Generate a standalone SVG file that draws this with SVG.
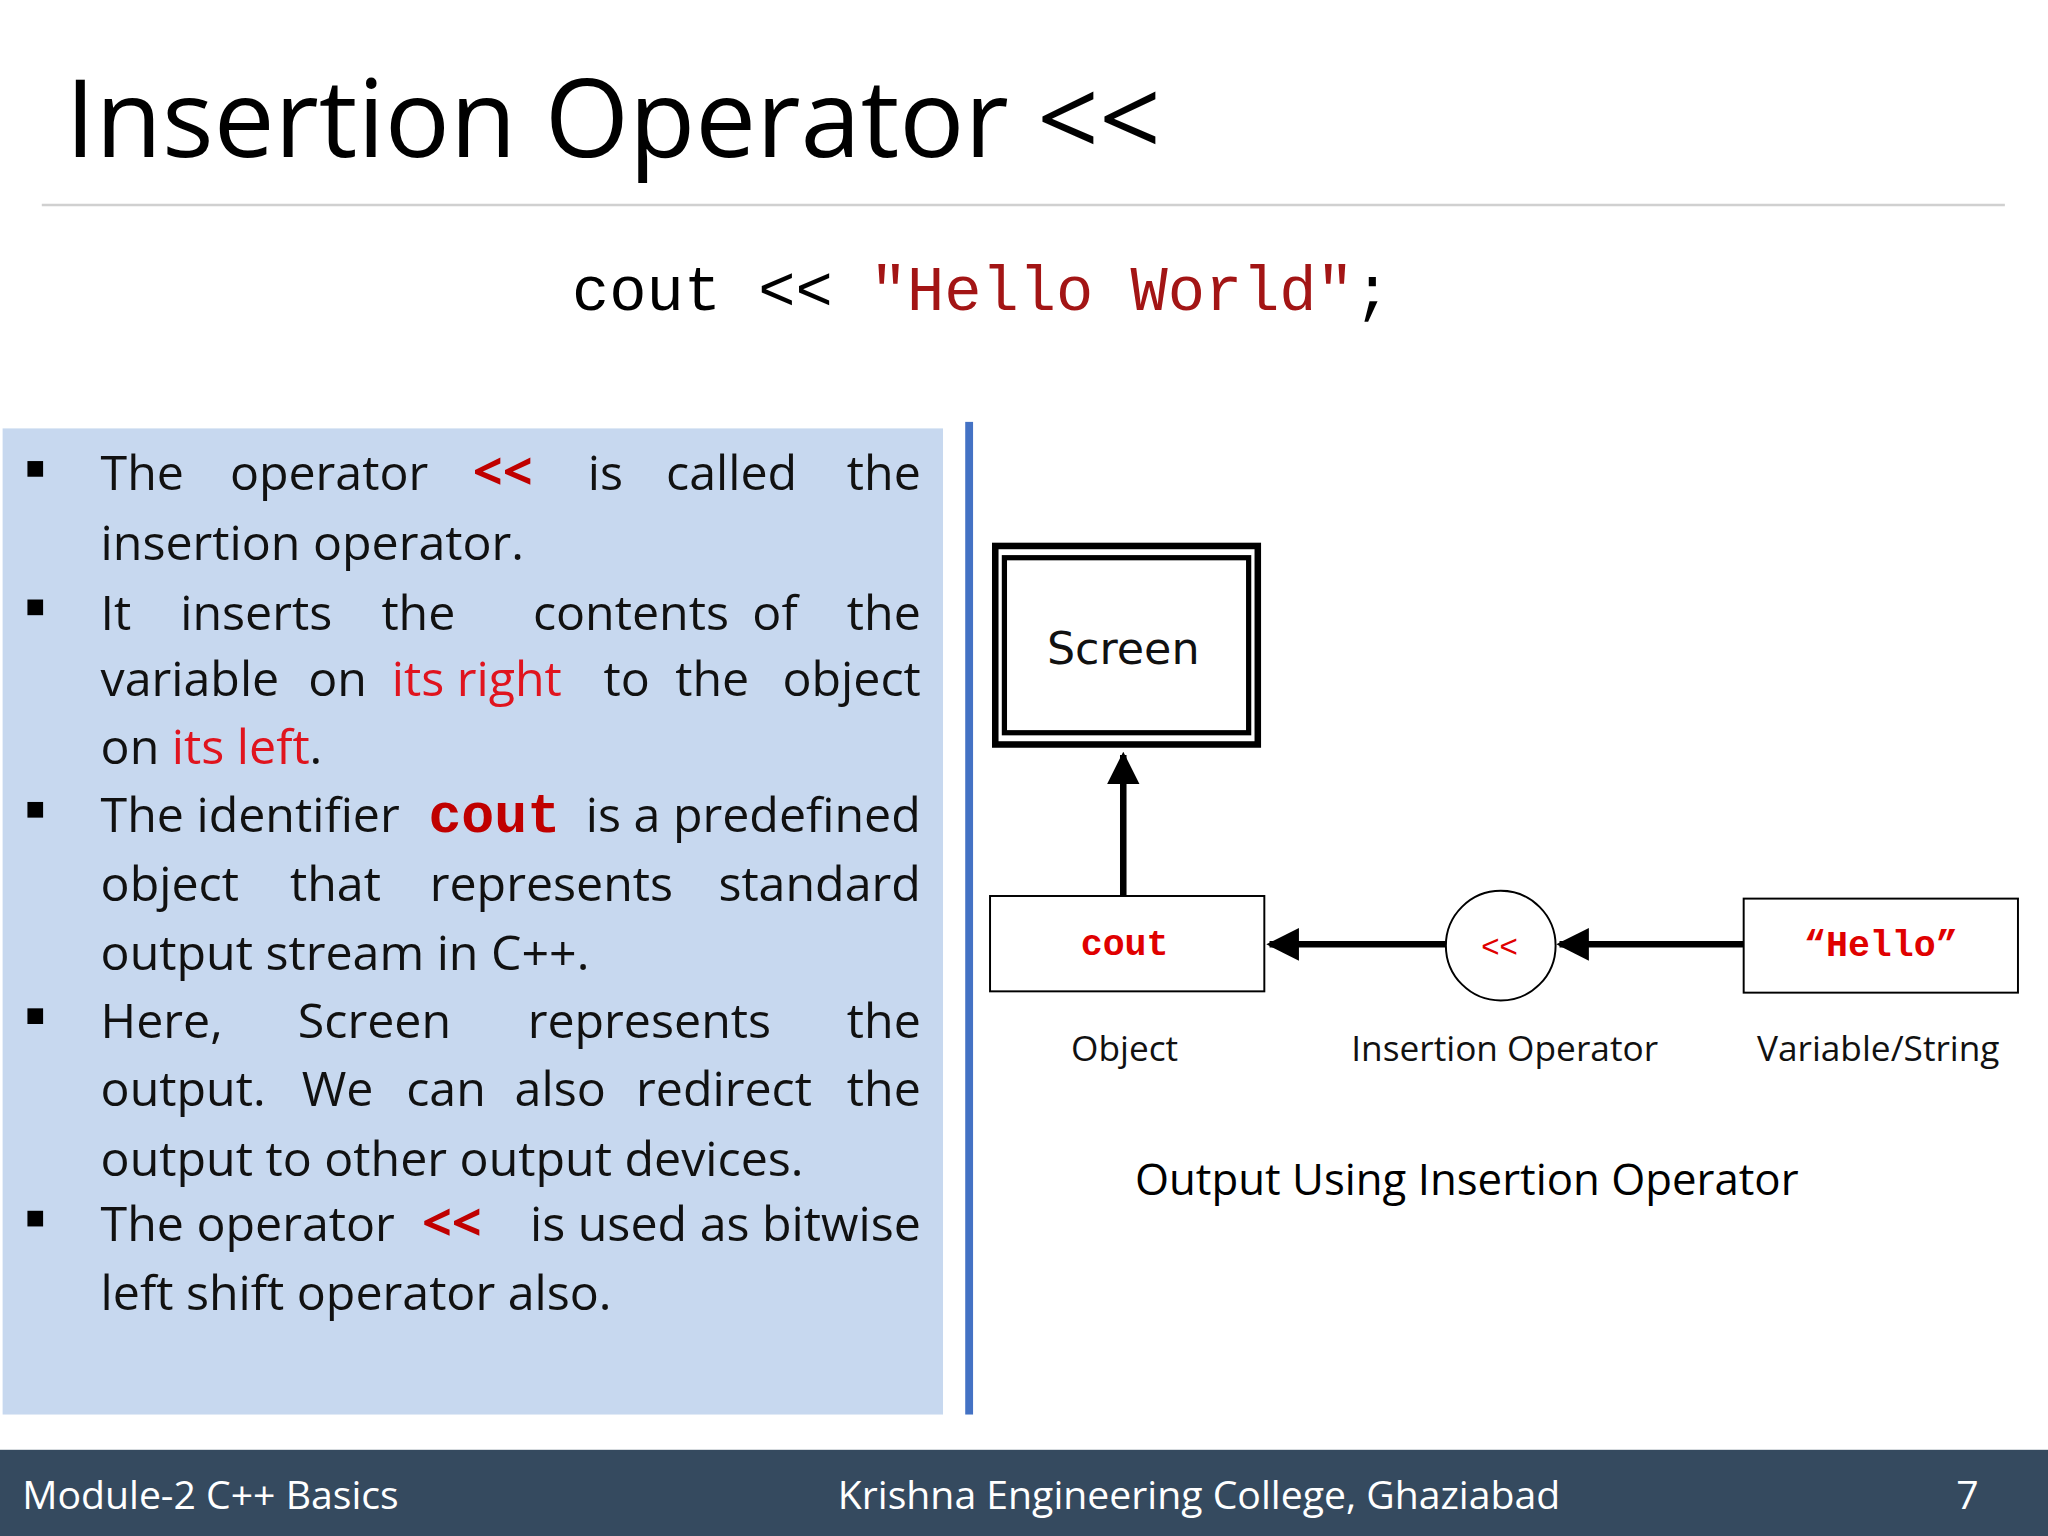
<svg xmlns="http://www.w3.org/2000/svg" width="2048" height="1536" viewBox="0 0 2048 1536">
<style>
.b{font-family:"Open Sans","Liberation Sans",sans-serif;font-size:37px;fill:#111}
.r{fill:#e0141e}
.rb{fill:#c00000;font-weight:bold}
.m{font-family:"Liberation Mono",monospace}
.lbl{font-family:"Open Sans","Liberation Sans",sans-serif;font-size:27px;fill:#111;text-anchor:middle}
</style>
<defs>
<marker id="ah" viewBox="0 0 10 10" refX="9" refY="5" markerWidth="5" markerHeight="5" orient="auto"><path d="M0,0L10,5L0,10z" fill="#000"/></marker>
</defs>
<rect width="2048" height="1536" fill="#fff"/>
<g transform="scale(1.306122)">
<g id="title">
<text x="50" y="120" font-family="Open Sans,Liberation Sans,sans-serif" font-size="83" fill="#000">Insertion Operator &lt;&lt;</text>
<line x1="32" y1="157" x2="1535" y2="157" stroke="#d0d0d0" stroke-width="2"/>
<text x="438" y="237" class="m" font-size="47.5" fill="#000">cout &lt;&lt; <tspan fill="#a31515">"Hello World"</tspan>;</text>
</g>
<g id="panel">
<rect x="2" y="328" width="720" height="755" fill="#c7d8ef"/>
<rect x="739" y="323" width="6" height="760" fill="#4472c4"/>
<g class="b">
<rect x="21" y="353" width="12" height="12" fill="#000"/>
<rect x="21" y="459" width="12" height="12" fill="#000"/>
<rect x="21" y="614" width="12" height="12" fill="#000"/>
<rect x="21" y="772" width="12" height="12" fill="#000"/>
<rect x="21" y="927" width="12" height="12" fill="#000"/>
<text y="375"><tspan x="77">The</tspan><tspan x="176">operator</tspan><tspan x="362" class="rb" font-size="40">&lt;&lt;</tspan><tspan x="450">is</tspan><tspan x="510">called</tspan><tspan x="705" text-anchor="end">the</tspan></text>
<text x="77" y="429">insertion operator.</text>
<text y="482"><tspan x="77">It</tspan><tspan x="138">inserts</tspan><tspan x="292">the</tspan><tspan x="408">contents</tspan><tspan x="576">of</tspan><tspan x="705" text-anchor="end">the</tspan></text>
<text y="533"><tspan x="77">variable</tspan><tspan x="236">on</tspan><tspan x="300" class="r">its right</tspan><tspan x="462">to</tspan><tspan x="517">the</tspan><tspan x="705" text-anchor="end">object</tspan></text>
<text x="77" y="585">on <tspan class="r">its left</tspan>.</text>
<text y="637"><tspan x="77">The identifier </tspan><tspan x="328" class="rb m" font-size="42">cout</tspan><tspan x="705" text-anchor="end">is a predefined</tspan></text>
<text y="690"><tspan x="77">object</tspan><tspan x="222">that</tspan><tspan x="329">represents</tspan><tspan x="705" text-anchor="end">standard</tspan></text>
<text x="77" y="743">output stream in C++.</text>
<text y="795"><tspan x="77">Here,</tspan><tspan x="228">Screen</tspan><tspan x="404">represents</tspan><tspan x="705" text-anchor="end">the</tspan></text>
<text y="847"><tspan x="77">output.</tspan><tspan x="231">We</tspan><tspan x="311">can</tspan><tspan x="394">also</tspan><tspan x="487">redirect</tspan><tspan x="705" text-anchor="end">the</tspan></text>
<text x="77" y="900">output to other output devices.</text>
<text y="950"><tspan x="77">The operator</tspan><tspan x="323" class="rb" font-size="40">&lt;&lt;</tspan><tspan x="705" text-anchor="end">is used as bitwise</tspan></text>
<text x="77" y="1003">left shift operator also.</text>
</g>
</g>
<g id="screen">
<rect x="762" y="418" width="201" height="152" fill="#fff" stroke="#000" stroke-width="5"/>
<rect x="769" y="427" width="187" height="134" fill="none" stroke="#000" stroke-width="4"/>
<text x="860" y="508" font-family="DejaVu Sans,sans-serif" font-size="34" fill="#111" text-anchor="middle">Screen</text>
</g>
<g id="cout">
<rect x="758" y="686" width="210" height="73" fill="#fff" stroke="#000" stroke-width="1.5"/>
<text x="861" y="731" class="m" font-size="28" font-weight="bold" fill="#e00000" text-anchor="middle">cout</text>
<text x="861" y="812" class="lbl">Object</text>
</g>
<g id="op">
<circle cx="1149" cy="724" r="42" fill="#fff" stroke="#000" stroke-width="1.5"/>
<text x="1148" y="733" font-family="Liberation Sans,sans-serif" font-size="24" fill="#e00000" text-anchor="middle">&lt;&lt;</text>
<text x="1152" y="812" class="lbl">Insertion Operator</text>
</g>
<g id="hello">
<rect x="1335" y="688" width="210" height="72" fill="#fff" stroke="#000" stroke-width="1.5"/>
<text x="1440" y="732" class="m" font-size="28" font-weight="bold" fill="#e00000" text-anchor="middle">“Hello”</text>
<text x="1438" y="812" class="lbl">Variable/String</text>
</g>
<g id="connectors" stroke="#000" stroke-width="5" fill="none">
<line x1="860" y1="686" x2="860" y2="578" marker-end="url(#ah)"/>
<line x1="1107" y1="723" x2="972" y2="723" marker-end="url(#ah)"/>
<line x1="1335" y1="723" x2="1194" y2="723" marker-end="url(#ah)"/>
</g>
<text x="1123" y="915" font-family="Open Sans,Liberation Sans,sans-serif" font-size="33.5" fill="#000" text-anchor="middle">Output Using Insertion Operator</text>
<g id="footer">
<rect x="0" y="1110" width="1568" height="66" fill="#354a5f"/>
<g font-family="Open Sans,Liberation Sans,sans-serif" font-size="30" fill="#fff">
<text x="17" y="1155">Module-2 C++ Basics</text>
<text x="918" y="1155" text-anchor="middle">Krishna Engineering College, Ghaziabad</text>
<text x="1515" y="1155" text-anchor="end">7</text>
</g>
</g>
</g>
</svg>
